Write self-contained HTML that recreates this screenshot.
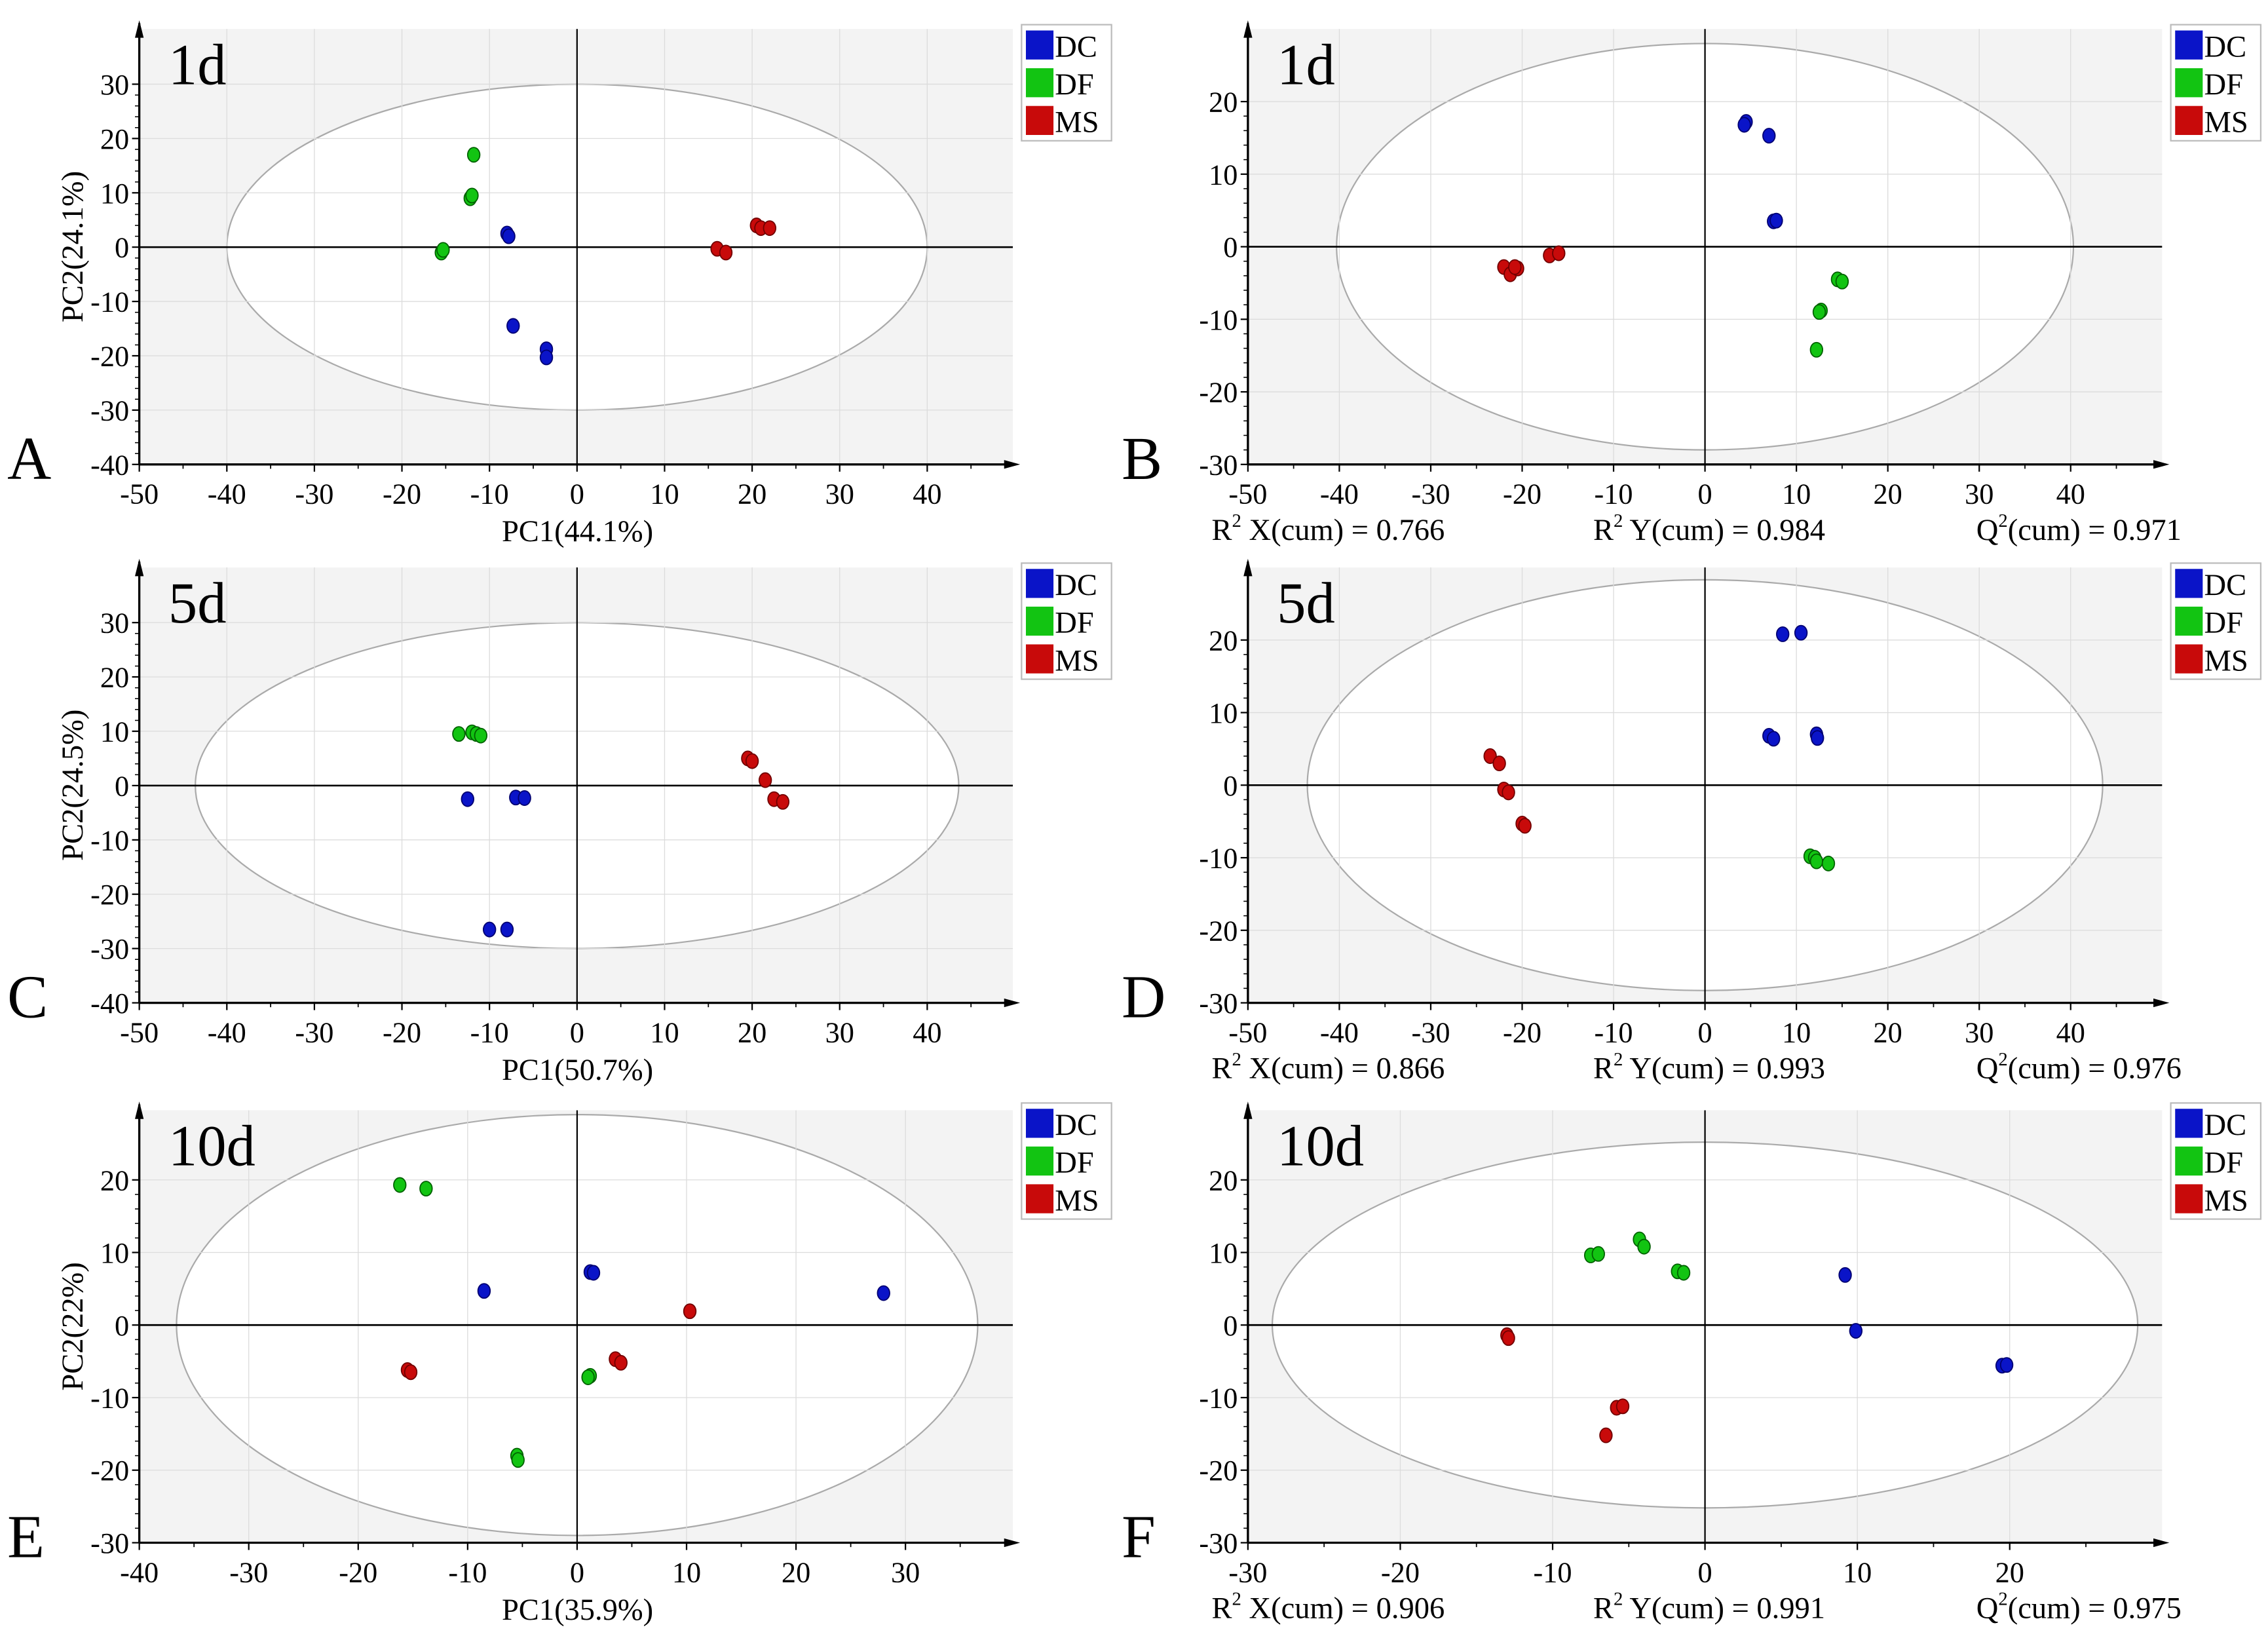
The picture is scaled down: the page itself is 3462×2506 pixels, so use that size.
<!DOCTYPE html>
<html><head><meta charset="utf-8"><style>
html,body{margin:0;padding:0;background:#fff;}
svg{display:block;font-family:"Liberation Serif",serif;}
</style></head><body>
<svg id="fig" width="3462" height="2506" viewBox="0 0 1563 1131.4" preserveAspectRatio="none" xmlns="http://www.w3.org/2000/svg"></svg>
<script>
// ---- data (PC1/t1, PC2/t2 score values) ----
const A_DC=[[-8,2.5],[-7.8,2],[-7.3,-14.5],[-3.5,-18.8],[-3.5,-20.3]];
const A_DF=[[-11.8,17],[-12.2,9],[-12,9.5],[-15.5,-1],[-15.3,-0.5]];
const A_MS=[[16,-0.3],[17,-1],[20.5,4],[21,3.5],[22,3.5]];
const B_DC=[[4.5,17.2],[4.3,16.8],[7,15.3],[7.5,3.5],[7.8,3.6]];
const B_DF=[[14.5,-4.5],[15,-4.8],[12.7,-8.8],[12.5,-9],[12.2,-14.2]];
const B_MS=[[-22,-2.8],[-21.3,-3.8],[-20.5,-3],[-20.8,-2.8],[-17,-1.2],[-16,-0.9]];
const C_DC=[[-12.5,-2.5],[-7,-2.2],[-6,-2.3],[-10,-26.5],[-8,-26.5]];
const C_DF=[[-13.5,9.5],[-12,9.8],[-11.5,9.5],[-11,9.2]];
const C_MS=[[19.5,5],[20,4.5],[21.5,1],[22.5,-2.5],[23.5,-3]];
const D_DC=[[8.5,20.8],[10.5,21],[7,6.8],[7.5,6.4],[12.2,7],[12.3,6.5]];
const D_DF=[[11.5,-9.8],[12,-10],[12.2,-10.5],[13.5,-10.8]];
const D_MS=[[-23.5,4],[-22.5,3],[-22,-0.6],[-21.5,-1],[-20,-5.3],[-19.7,-5.6]];
const E_DC=[[-8.5,4.7],[1.2,7.3],[1.5,7.2],[28,4.4]];
const E_DF=[[-16.2,19.3],[-13.8,18.8],[1.2,-7],[1,-7.2],[-5.5,-18],[-5.4,-18.6]];
const E_MS=[[-15.5,-6.2],[-15.2,-6.5],[10.3,1.9],[3.5,-4.7],[4,-5.2]];
const F_DC=[[9.2,6.9],[9.9,-0.8],[19.5,-5.6],[19.8,-5.5]];
const F_DF=[[-7.5,9.6],[-7,9.8],[-4.3,11.8],[-4,10.8],[-1.8,7.4],[-1.4,7.2]];
const F_MS=[[-13,-1.4],[-12.9,-1.8],[-5.8,-11.4],[-5.4,-11.2],[-6.5,-15.2]];
const ticksAx=[-50,-40,-30,-20,-10,0,10,20,30,40];
const ticksAy=[30,20,10,0,-10,-20,-30,-40];
const ticksBy=[20,10,0,-10,-20,-30];
const ticksEx=[-40,-30,-20,-10,0,10,20,30];
const ticksFx=[-30,-20,-10,0,10,20];
const groups=["DC","DF","MS"];
const colors=["#0a14c8","#12c412","#c80a0a"];
const strokes=["#000070","#006000","#700000"];

const NS="http://www.w3.org/2000/svg";
const svg=document.getElementById('fig');
function mk(tag,attrs,parent,text){const e=document.createElementNS(NS,tag);for(const k in attrs)e.setAttribute(k,attrs[k]);if(text!==undefined)e.textContent=text;(parent||svg).appendChild(e);return e;}

const panels=[
 {id:'a',L:'A',t:'1d',x0:96,x1:698,xv0:-50,xv1:40,xp1:639,yt:20,yb:320,yv0:-40,yp0:320,yv1:30,yp1:58,xt:ticksAx,yt2:ticksAy,ell:[40,30],leg:704,lgy:17,data:[A_DC,A_DF,A_MS],yl:'PC2(24.1%)',xl:'PC1(44.1%)'},
 {id:'b',L:'B',t:'1d',x0:860,x1:1490,xv0:-50,xv1:40,xp1:1427,yt:20,yb:320,yv0:-30,yp0:320,yv1:20,yp1:70,xt:ticksAx,yt2:ticksBy,ell:[40.3,28],leg:1496,lgy:17,data:[B_DC,B_DF,B_MS],r:['0.766','0.984','0.971']},
 {id:'c',L:'C',t:'5d',x0:96,x1:698,xv0:-50,xv1:40,xp1:639,yt:391,yb:691,yv0:-40,yp0:691,yv1:30,yp1:429,xt:ticksAx,yt2:ticksAy,ell:[43.6,30],leg:704,lgy:388,data:[C_DC,C_DF,C_MS],yl:'PC2(24.5%)',xl:'PC1(50.7%)'},
 {id:'d',L:'D',t:'5d',x0:860,x1:1490,xv0:-50,xv1:40,xp1:1427,yt:391,yb:691,yv0:-30,yp0:691,yv1:20,yp1:441,xt:ticksAx,yt2:ticksBy,ell:[43.5,28.3],leg:1496,lgy:388,data:[D_DC,D_DF,D_MS],r:['0.866','0.993','0.976']},
 {id:'e',L:'E',t:'10d',x0:96,x1:698,xv0:-40,xv1:30,xp1:624,yt:765,yb:1063,yv0:-30,yp0:1063,yv1:20,yp1:813,xt:ticksEx,yt2:ticksBy,ell:[36.6,29],leg:704,lgy:760,data:[E_DC,E_DF,E_MS],yl:'PC2(22%)',xl:'PC1(35.9%)'},
 {id:'f',L:'F',t:'10d',x0:860,x1:1490,xv0:-30,xv1:20,xp1:1385,yt:765,yb:1063,yv0:-30,yp0:1063,yv1:20,yp1:813,xt:ticksFx,yt2:ticksBy,ell:[28.4,25.2],leg:1496,lgy:760,data:[F_DC,F_DF,F_MS],r:['0.906','0.991','0.975']}
];

panels.forEach(p=>{
 const g=mk('g',{});
 
 
 const sx=v=>p.x0+(v-p.xv0)*(p.xp1-p.x0)/(p.xv1-p.xv0);
 const sy=v=>p.yp0+(v-p.yv0)*(p.yp1-p.yp0)/(p.yv1-p.yv0);
 // background
 const bg=mk('rect',{x:p.x0,y:p.yt,width:p.x1-p.x0,height:p.yb-p.yt,fill:'#f3f3f3'},g);
 
 
 const el=mk('ellipse',{cx:sx(0),cy:sy(0),rx:Math.abs(sx(p.ell[0])-sx(0)),ry:Math.abs(sy(p.ell[1])-sy(0)),fill:'#fff',stroke:'#aaa','stroke-width':1},g);
 
 
 // grid
 p.xt.forEach(v=>{mk('line',{x1:sx(v),x2:sx(v),y1:p.yt,y2:p.yb,stroke:'#dcdcdc','stroke-width':0.6},g);});
 p.yt2.forEach(v=>{mk('line',{x1:p.x0,x2:p.x1,y1:sy(v),y2:sy(v),stroke:'#dcdcdc','stroke-width':0.6},g);});
 // zero lines
 const zx=mk('line',{x1:sx(0),x2:sx(0),y1:p.yt,y2:p.yb,stroke:'#000','stroke-width':1},g);
 
 
 const zy=mk('line',{x1:p.x0,x2:p.x1,y1:sy(0),y2:sy(0),stroke:'#000','stroke-width':1.2},g);
 
 
 // axes
 const ay=mk('line',{x1:p.x0,x2:p.x0,y1:p.yb,y2:p.yt-4,stroke:'#000','stroke-width':1.5},g);
 
 
 mk('polygon',{points:`${p.x0-3},${p.yt+6} ${p.x0+3},${p.yt+6} ${p.x0},${p.yt-6}`,fill:'#000'},g);
 const ax=mk('line',{x1:p.x0,x2:p.x1+2,y1:p.yb,y2:p.yb,stroke:'#000','stroke-width':1.5},g);
 
 
 mk('polygon',{points:`${p.x1-6},${p.yb-3} ${p.x1-6},${p.yb+3} ${p.x1+5},${p.yb}`,fill:'#000'},g);
 // ticks
 p.xt.forEach(v=>{
  mk('line',{x1:sx(v),x2:sx(v),y1:p.yb,y2:p.yb+5,stroke:'#000','stroke-width':1},g);
  mk('line',{x1:sx(v+5),x2:sx(v+5),y1:p.yb,y2:p.yb+3,stroke:'#000','stroke-width':0.8},g);
  const t=mk('text',{x:sx(v),y:p.yb+27,'font-size':20,'text-anchor':'middle'},g,String(v));
  
  
 });
 p.yt2.forEach(v=>{
  mk('line',{x1:p.x0-5,x2:p.x0,y1:sy(v),y2:sy(v),stroke:'#000','stroke-width':1},g);
  for(let k=2;k<10;k+=2) if(v-k>=p.yv0) mk('line',{x1:p.x0-3,x2:p.x0,y1:sy(v-k),y2:sy(v-k),stroke:'#000','stroke-width':0.7},g);
  const t=mk('text',{x:p.x0-7,y:sy(v)+7,'font-size':20,'text-anchor':'end'},g,String(v));
  
  
 });
 // points
 p.data.forEach((arr,gi)=>{
  arr.forEach(d=>{
   const c=mk('ellipse',{cx:sx(d[0]),cy:sy(d[1]),rx:4.2,ry:5,fill:colors[gi],stroke:strokes[gi],'stroke-width':0.8},g);
   
   
  });
 });
 // title and letter
 const tt=mk('text',{x:p.x0+20,y:p.yt+38,'font-size':40},g,p.t);
 
 
 const lt=mk('text',{x:p.x0<500?5:773,y:p.yb+10,'font-size':42},g,p.L);
 
 
 // legend
 const lg=mk('g',{},g);
 
 
 mk('rect',{x:p.leg,y:p.lgy,width:62,height:80,fill:'#fff',stroke:'#bbb','stroke-width':1},lg);
 groups.forEach((nm,gi)=>{
  const sw=mk('rect',{x:p.leg+3,y:p.lgy+4+gi*26,width:19,height:20,fill:colors[gi]},lg);
  
  
  const lx=mk('text',{x:p.leg+23,y:p.lgy+22+gi*26,'font-size':21},lg,nm);
  
  
 });
 // axis labels
 if(p.yl){
  const cy=(p.yt+p.yb)/2;
  const yl=mk('text',{x:57,y:cy,'font-size':21,'text-anchor':'middle',transform:`rotate(-90 57 ${cy})`},g,p.yl);
  
  
  const xl=mk('text',{x:398,y:p.yb+53,'font-size':21,'text-anchor':'middle'},g,p.xl);
  
  
 } else {
  const labs=[['R','X(cum) = '+p.r[0],835],['R','Y(cum) = '+p.r[1],1098],['Q','(cum) = '+p.r[2],1362]];
  labs.forEach((l,i)=>{
   const t=mk('text',{x:l[2],y:p.yb+52,'font-size':21},g);
   
   
   const a=mk('tspan',{},t,l[0]);
   mk('tspan',{dy:-9,'font-size':13},t,'2');
   mk('tspan',{dy:9},t,(i<2?' ':'')+l[1]);
  });
 }
});
</script>
</body></html>
